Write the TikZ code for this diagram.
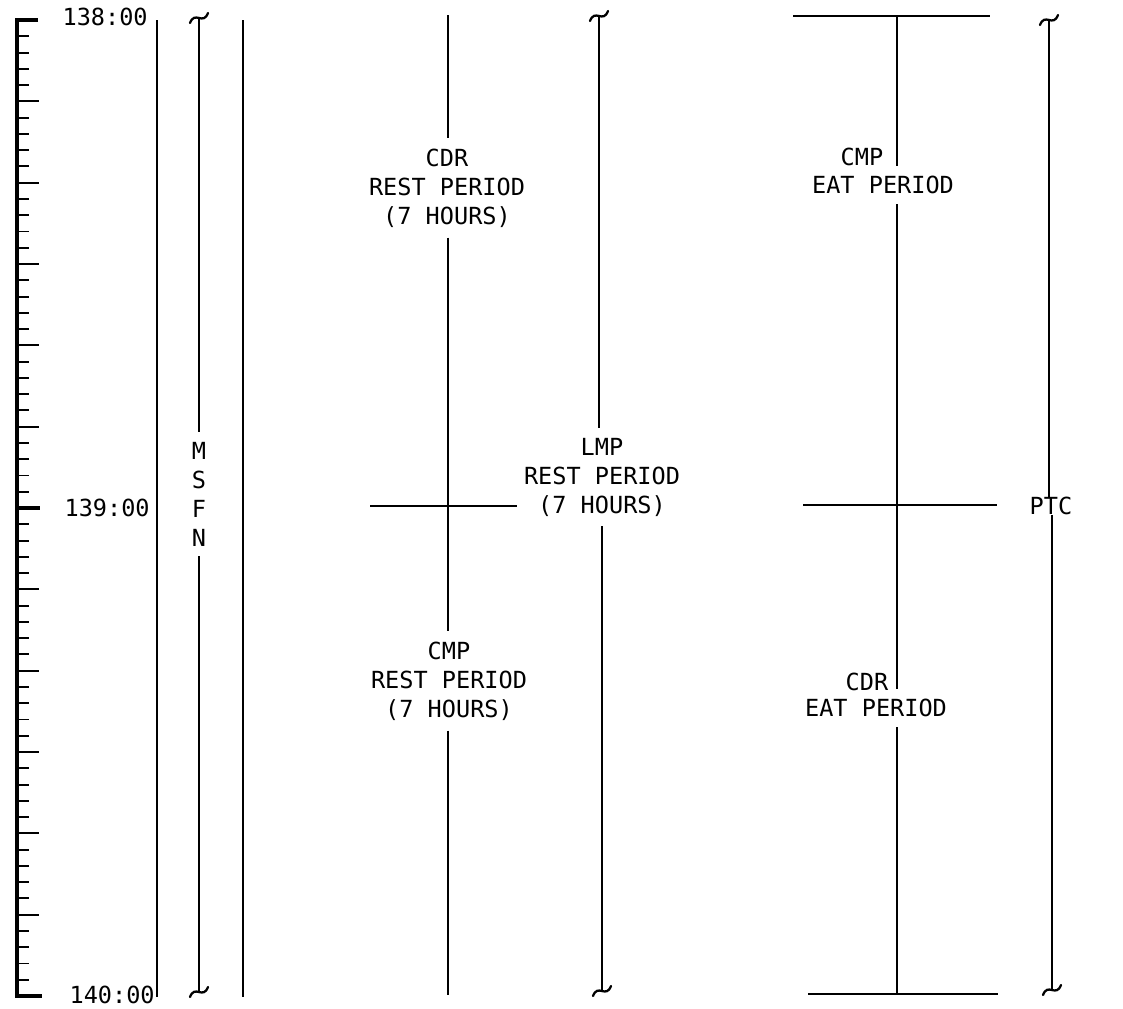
\documentclass[tikz,border=0pt]{standalone}
\usepackage{fontspec}
\newfontfamily\gothic{DejaVu Sans Mono}
\usepackage{tikz}
\usetikzlibrary{positioning}

\begin{document}
\begin{tikzpicture}[
    x=0.02cm, y=-0.02cm,
    txt/.style={font={\gothic\fontsize{13.4}{16.5}\selectfont}, inner sep=0pt, align=center},
    timelabel/.style={txt, anchor=east},
    gap/.style={inner xsep=0pt, inner ysep=0.2cm},
    axis/.style={draw=black, line width=2.6pt, line join=miter},
    tick/.style={draw=black, line width=1.1pt},
    track/.style={draw=black, line width=1.6pt},
    rule/.style={draw=black, line width=1.1pt},
    bar/.style={draw=black, line width=1.1pt},
    squig/.style={draw=black, line width=1.3pt, line cap=round}
]
\useasboundingbox (0,0) rectangle (1123,1008);

% Time scale
\draw[axis] (38,20) -- (17,20) -- (17,996) -- (42,996);
\foreach \i in {1,...,59}
    \draw[tick] (17,{20+\i*16.267}) -- ++(12,0);
\foreach \i in {5,10,...,55}
    \draw[tick] (17,{20+\i*16.267}) -- ++(22,0);
\draw[axis] (17,508) -- (40,508);

\node[timelabel] (h138) at (148,17) {138:00};
\node[timelabel] (h139) at (150,508) {139:00};
\node[timelabel] (h140) at (155,995) {140:00};

% Plain tracks
\draw[track] (157,20) -- (157,997);
\draw[track] (243,20) -- (243,997);

% MSFN
\coordinate (mtop) at (199,18);
\coordinate (mbot) at (199,992);
\node[txt, gap] (msfn) at (199,494) {M\\S\\F\\N};
\draw[rule] (mtop) -- (mtop |- msfn.north);
\draw[rule] (mbot |- msfn.south) -- (mbot);
\draw[squig] (mtop) ++(-9,5) .. controls +(5,-13) and +(-5,13) .. ++(18,-10);
\draw[squig] (mbot) ++(-9,5) .. controls +(5,-13) and +(-5,13) .. ++(18,-10);

% CDR / CMP rest periods
\coordinate (rtop) at (448,15);
\coordinate (rbot) at (448,995);
\node[txt, gap] (cdrrest) at (447,188) {CDR\\REST PERIOD\\(7 HOURS)};
\node[txt, gap] (cmprest) at (449,681) {CMP\\REST PERIOD\\(7 HOURS)};
\draw[rule] (rtop) -- (rtop |- cdrrest.north);
\draw[rule] (rtop |- cdrrest.south) -- (rtop |- cmprest.north);
\draw[rule] (rbot |- cmprest.south) -- (rbot);
\coordinate (rl) at (370,506);
\coordinate (rr) at (517,506);
\draw[bar] (rl) -- (rr);

% LMP rest period
\coordinate (ltop) at (599,16);
\coordinate (lbot) at (602,991);
\node[txt, gap] (lmprest) at (602,477) {LMP\\REST PERIOD\\(7 HOURS)};
\draw[rule] (ltop) -- (ltop |- lmprest.north);
\draw[rule] (lbot |- lmprest.south) -- (lbot);
\draw[squig] (ltop) ++(-9,5) .. controls +(5,-13) and +(-5,13) .. ++(18,-10);
\draw[squig] (lbot) ++(-9,5) .. controls +(5,-13) and +(-5,13) .. ++(18,-10);

% Eat periods
\coordinate (etop) at (897,16);
\coordinate (ebot) at (897,994);
\node[txt] (cmpwho) at (862,157) {CMP};
\node[txt, gap] (cmpeat) at (883,185) {EAT PERIOD};
\node[txt] (cdrwho) at (867,682) {CDR};
\node[txt, gap] (cdreat) at (876,708) {EAT PERIOD};
\draw[rule] (etop) -- (etop |- cmpeat.north);
\draw[rule] (etop |- cmpeat.south) -- (etop |- cdreat.north);
\draw[rule] (ebot |- cdreat.south) -- (ebot);
\draw[bar] (793,16) -- (990,16);
\draw[bar] (803,505) -- (997,505);
\draw[bar] (808,994) -- (998,994);

% PTC
\coordinate (ptop) at (1049,20);
\coordinate (pbot) at (1052,990);
\node[txt] (ptc) at (1051,506) {PTC};
\draw[rule] (ptop) -- (ptop |- ptc.north);
\draw[rule] (pbot |- ptc.south) -- (pbot);
\draw[squig] (ptop) ++(-9,5) .. controls +(5,-13) and +(-5,13) .. ++(18,-10);
\draw[squig] (pbot) ++(-9,5) .. controls +(5,-13) and +(-5,13) .. ++(18,-10);

\end{tikzpicture}
\end{document}
